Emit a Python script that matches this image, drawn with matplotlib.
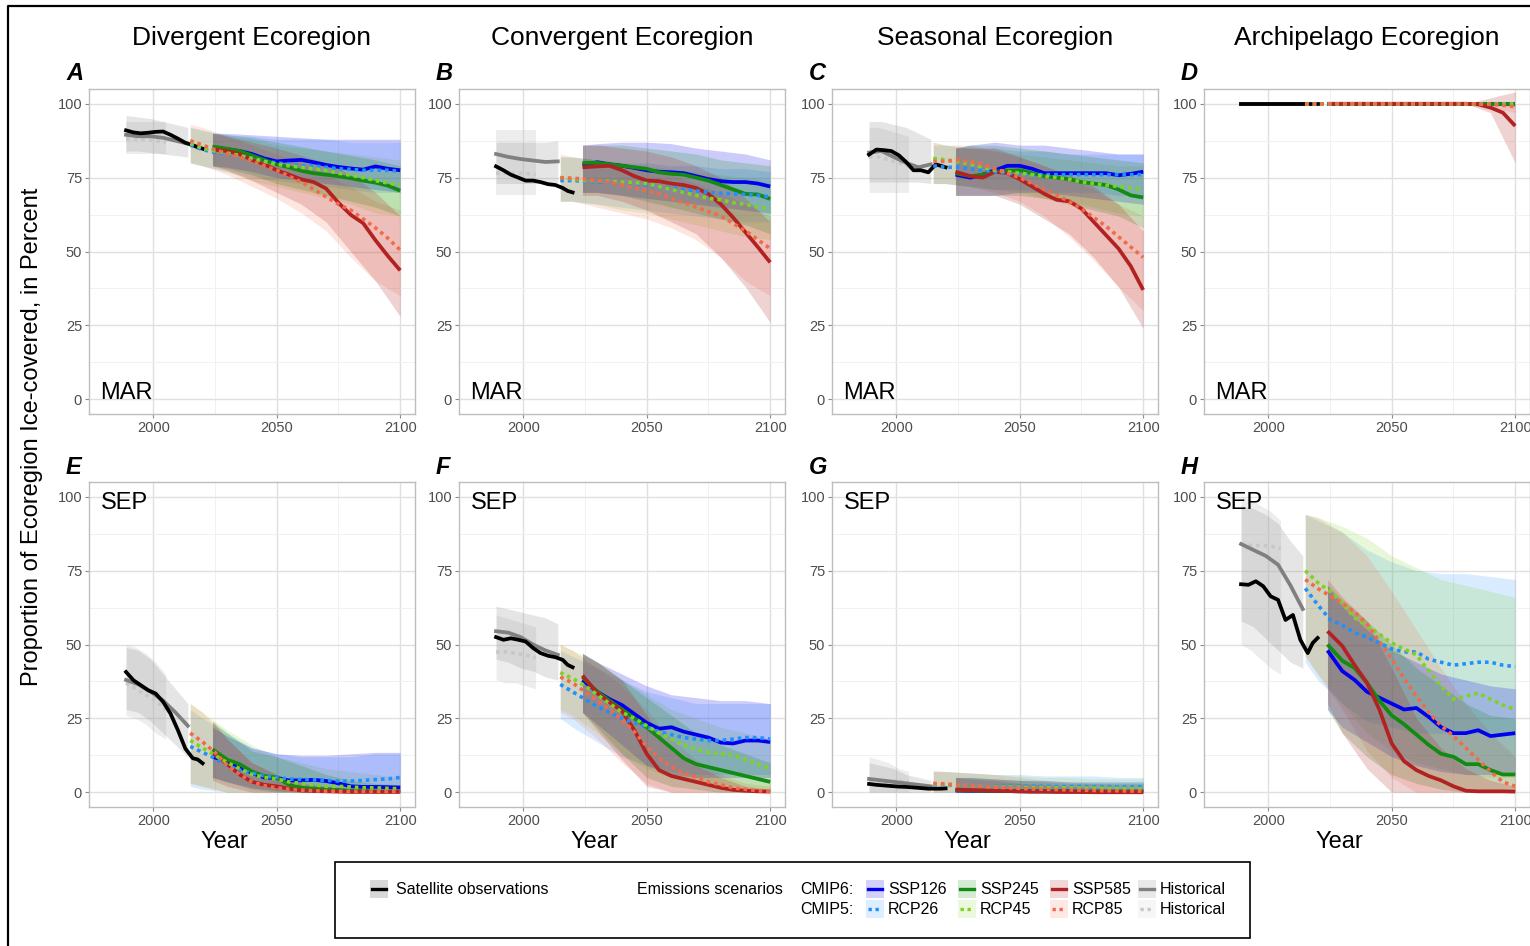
import matplotlib
matplotlib.use("Agg")
import matplotlib.pyplot as plt
from matplotlib.lines import Line2D
from matplotlib.patches import Rectangle
from matplotlib.ticker import FixedLocator

plt.rcParams['font.family'] = ['Liberation Sans', 'DejaVu Sans']

# ---------------- data ----------------
PANELS = ["A", "B", "C", "D", "E", "F", "G", "H"]
COLUMN_TITLES = ["Divergent Ecoregion", "Convergent Ecoregion", "Seasonal Ecoregion", "Archipelago Ecoregion"]
MONTHS = ["MAR", "SEP"]

OBS_YEARS = [1989, 1992, 1995, 1998, 2001, 2004, 2007, 2010, 2013, 2016, 2018, 2020]
HIST6_YEARS = [1989, 1994, 1999, 2004, 2009, 2014]
HIST5_YEARS = [1989, 1993, 1997, 2001, 2005]
CMIP5_YEARS = [2015, 2020, 2025, 2030, 2035, 2040, 2045, 2050, 2055, 2060, 2065, 2070, 2075, 2080, 2085, 2090, 2095, 2100]
CMIP6_YEARS = [2024, 2030, 2035, 2040, 2045, 2050, 2055, 2060, 2065, 2070, 2075, 2080, 2085, 2090, 2095, 2100]
BAND5_YEARS = [2015, 2020, 2030, 2040, 2050, 2060, 2070, 2080, 2090, 2100]
BAND6_YEARS = [2024, 2030, 2040, 2050, 2060, 2070, 2080, 2090, 2100]

OBS = {
    "A": [91, 90.3, 90, 90.2, 90.5, 90.6, 89.5, 88.2, 86.8, 86, 85.3, 84.8],
    "B": [78.8, 77.5, 76, 75, 74, 74, 73.5, 72.8, 72.5, 71.5, 70.5, 70],
    "C": [82.8, 84.5, 84.3, 84, 82.6, 80.3, 77.5, 77.5, 76.8, 79.5, 79, 78.5],
    "D": [100, 100, 100, 100, 100, 100, 100, 100, 100, 100, 100, 100],
    "E": [40.7, 37.9, 36.2, 34.5, 33.4, 30.6, 26.6, 21, 14.8, 11.5, 11.1, 9.8],
    "F": [52.5, 51.6, 52.1, 51.6, 51, 48.8, 47.1, 46.2, 45.7, 44.8, 43.1, 42.3],
    "G": [2.8, 2.5, 2.3, 2.1, 1.9, 1.8, 1.6, 1.4, 1.2, 1.2, 1.2, 1.3],
    "H": [70.4, 70.2, 71.4, 69.7, 66.3, 65.1, 58.3, 60, 51.6, 47.1, 50.5, 52.2],
}
HIST6 = {
    "A": [89.5, 89, 89, 88.5, 87.5, 86.5], "B": [83, 82, 81.3, 80.8, 80.3, 80.5],
    "C": [83.5, 84, 82, 80, 78.5, 79.5], "D": [100, 100, 100, 100, 100, 100],
    "E": [38, 36.5, 34, 31, 27, 22.5], "F": [54.5, 54, 52.5, 50, 48, 46.5],
    "G": [4.5, 4, 3.5, 3, 2.5, 2], "H": [84, 82, 80, 77, 70, 62],
}
HIST6_LO = {
    "A": [84, 84, 83.5, 83, 82.5, 82], "B": [73, 73, 73, 73, 73, 73],
    "C": [73.5, 73.5, 73.5, 73.5, 73.5, 73], "D": [99.5, 99.5, 99.5, 99.5, 99.5, 99.5],
    "E": [28, 27, 24, 20, 16, 12], "F": [45, 44, 42, 41, 39, 38],
    "G": [0, 0, 0, 0, 0, 0], "H": [58, 56, 52, 48, 44, 42],
}
HIST6_HI = {
    "A": [96, 95.5, 95, 94, 93, 92], "B": [87, 87, 87, 87, 87, 87.5],
    "C": [94, 94, 93, 92, 90, 88], "D": [100, 100, 100, 100, 100, 100],
    "E": [49, 48, 45, 40, 35, 30], "F": [63, 62, 61, 60, 59, 57],
    "G": [10, 9, 8, 6, 5, 4], "H": [97, 96, 94, 91, 85, 80],
}
HIST5 = {
    "A": [88, 88, 88, 87.5, 87], "B": [76.5, 76.5, 76.5, 76.5, 76],
    "C": [82, 82, 81, 80, 79], "D": [100, 100, 100, 100, 100],
    "E": [37, 35, 33, 31, 28], "F": [47.5, 47.5, 47, 46.5, 45.5],
    "G": [3.5, 3.5, 3.6, 3.7, 3.5], "H": [84, 83.5, 83.5, 83.3, 82.5],
}
HIST5_LO = {
    "A": [83, 83, 83, 83, 83], "B": [69, 69, 69, 69, 69], "C": [70, 70, 70, 70, 70],
    "D": [99.5, 99.5, 99.5, 99.5, 99.5], "E": [26, 25, 23, 20, 18], "F": [38, 37, 37, 36, 35],
    "G": [0, 0, 0, 0, 0], "H": [50, 48, 45, 42, 40],
}
HIST5_HI = {
    "A": [94, 94, 94, 94, 94], "B": [91, 91, 91, 91, 91], "C": [92, 92, 91, 90, 89],
    "D": [100, 100, 100, 100, 100], "E": [50, 49, 47, 44, 40], "F": [60, 59, 58, 57, 56],
    "G": [12, 11, 10, 8, 7], "H": [100, 99, 97, 95, 92],
}

RCP26 = {
    "A": [86, 84.5, 83.5, 83, 82.5, 81.5, 80.5, 80, 79.5, 79, 79, 78.5, 78, 77.8, 77.5, 77.5, 77.5, 77.2],
    "B": [74, 74, 73.8, 73.5, 73.5, 73.3, 73, 72.5, 72, 71.5, 71, 70.5, 70, 69.7, 69.5, 69.3, 69, 68.5],
    "C": [79, 78.5, 78.5, 78, 77.5, 77, 76.5, 76.2, 76, 76, 76, 76, 76, 76, 76, 76, 76, 76],
    "D": [100, 100, 100, 100, 100, 100, 100, 100, 100, 100, 100, 100, 100, 100, 100, 100, 100, 100],
    "E": [15.5, 13.5, 11.5, 9, 7.5, 6.5, 5.5, 5, 4.5, 4.3, 4.2, 4, 3.8, 3.8, 4, 4.3, 4.5, 5],
    "F": [36.5, 34, 31.5, 29, 27, 25, 23.5, 22, 20.5, 19.5, 18.5, 18, 17.5, 17.5, 18, 18.5, 18.5, 18],
    "G": [2.5, 2.4, 2.3, 2.2, 2.2, 2.1, 2.1, 2.0, 2.0, 2.0, 1.9, 1.9, 1.9, 1.8, 1.8, 1.8, 1.8, 1.8],
    "H": [69, 63.5, 58.5, 56.5, 54, 52.5, 50.5, 48.5, 47.5, 47.5, 45, 44, 43, 43.5, 44, 44, 43, 42.5],
}
RCP45 = {
    "A": [86.5, 85, 84, 83.3, 82.5, 81.5, 80.5, 79.5, 79, 78.5, 78, 77.5, 76.5, 75.8, 75, 74, 73.2, 72.5],
    "B": [75, 74.5, 74, 74, 73.8, 73.5, 73.3, 73, 72, 71, 70, 69, 68, 67.5, 66.5, 66, 65, 64.5],
    "C": [81.5, 81, 80.5, 79.5, 78.5, 77.5, 77, 76.5, 76, 75.5, 75, 74.5, 73.5, 73, 72.5, 72, 71.5, 71],
    "D": [100, 100, 100, 100, 100, 100, 100, 100, 100, 100, 100, 100, 100, 100, 100, 100, 100, 100],
    "E": [17.5, 15, 12.5, 10, 8, 6, 5, 4.5, 3.5, 3, 2.5, 2, 2, 1.8, 1.5, 1.5, 1.3, 1.2],
    "F": [40.5, 38.5, 36, 33, 30, 27, 25, 22.5, 20, 18, 16, 14.5, 13.5, 13, 12.5, 11, 9.5, 8],
    "G": [2.8, 2.6, 2.4, 2.2, 2.0, 1.9, 1.8, 1.7, 1.6, 1.6, 1.5, 1.5, 1.4, 1.4, 1.3, 1.3, 1.2, 1.2],
    "H": [75, 71, 68, 64, 59, 56.5, 53.5, 50.5, 48.5, 46.5, 41, 36, 31.5, 32.5, 33.5, 31.5, 29.5, 28],
}
RCP85 = {
    "A": [87.5, 86, 84.5, 83, 82, 80.5, 79, 77.5, 75.5, 73.5, 71, 68.5, 66, 64, 61, 58, 54.5, 50.5],
    "B": [75, 74.8, 74.5, 74, 73.5, 72.5, 71.5, 70.5, 69.5, 68, 66.5, 65, 63.5, 62, 59.5, 57, 54, 51],
    "C": [80.5, 80.5, 81, 80.5, 79.5, 78, 76.5, 75, 73, 71, 69, 67, 64.5, 61.5, 58.5, 55, 51.5, 48],
    "D": [100, 100, 100, 100, 100, 100, 100, 100, 100, 100, 100, 100, 100, 100, 100, 99.8, 99.5, 99],
    "E": [20, 17, 13.5, 9, 6, 3.5, 2.2, 1.5, 1, 0.7, 0.5, 0.4, 0.3, 0.3, 0.3, 0.3, 0.3, 0.3],
    "F": [39, 37, 34, 31, 28, 24.5, 20.5, 15.5, 11.5, 8.5, 6.5, 5, 3.5, 2.5, 1.5, 1, 0.5, 0.3],
    "G": [3.0, 2.8, 2.5, 2.2, 2.0, 1.7, 1.5, 1.3, 1.1, 1.0, 0.9, 0.8, 0.7, 0.6, 0.5, 0.5, 0.4, 0.4],
    "H": [72, 69, 66.5, 64, 61, 57, 51, 45, 38.5, 32.5, 27, 22.5, 19, 15, 11, 7, 3.5, 2],
}
SSP126 = {
    "A": [85, 84.5, 84, 83, 81.5, 80.5, 80.8, 81, 80.2, 79.3, 78.6, 78.1, 77.7, 78.8, 78, 77.5],
    "B": [79.3, 80.2, 79.5, 79, 78.3, 77.5, 77, 76.8, 76.5, 75.5, 74.5, 73.8, 73.5, 73.5, 73, 72],
    "C": [76, 75, 76, 77.5, 79, 79, 78, 76.5, 76.5, 76.5, 76.5, 76.5, 76.5, 75.8, 76.3, 77],
    "D": [100, 100, 100, 100, 100, 100, 100, 100, 100, 100, 100, 100, 100, 100, 100, 100],
    "E": [12, 10.5, 8.5, 6.5, 5, 4.8, 4, 4, 4.2, 3.8, 3, 2, 1.8, 1.8, 1.7, 1.6],
    "F": [38, 34, 31.5, 29.5, 26.5, 23.5, 21.5, 22, 20.5, 19.5, 18.5, 16.8, 16.5, 17.5, 17.5, 17],
    "G": [0.6, 0.5, 0.5, 0.4, 0.4, 0.3, 0.3, 0.3, 0.3, 0.3, 0.2, 0.2, 0.2, 0.2, 0.2, 0.2],
    "H": [48, 41, 38, 34, 32, 30, 28, 28.5, 25.5, 22, 20, 20, 21, 19, 19.5, 20],
}
SSP245 = {
    "A": [85.5, 84.8, 84, 82.5, 81, 79.5, 78.5, 77.3, 76.5, 76, 75.5, 74.8, 74, 73.3, 72.3, 70.6],
    "B": [80, 80, 79.5, 79, 78.5, 78, 76.8, 76.3, 76, 75, 74, 72.5, 71, 69.5, 69.3, 67.8],
    "C": [76.5, 75.5, 76, 77, 77.3, 77.5, 76.5, 75.5, 75, 74.5, 73.5, 73, 72.5, 71, 69, 68.3],
    "D": [100, 100, 100, 100, 100, 100, 100, 100, 100, 100, 100, 100, 100, 100, 100, 100],
    "E": [14.5, 11, 9.5, 7, 5.5, 5, 2.5, 1.5, 1.2, 1, 0.8, 0.5, 0.5, 0.3, 0.3, 0.3],
    "F": [39, 34, 31, 28, 25, 22, 18.5, 15, 11.5, 9.5, 8.5, 7.5, 6.5, 5.5, 4.5, 3.5],
    "G": [0.7, 0.6, 0.5, 0.5, 0.4, 0.4, 0.3, 0.3, 0.3, 0.2, 0.2, 0.2, 0.2, 0.2, 0.2, 0.2],
    "H": [50, 44.5, 42, 37, 31, 26, 23, 19.5, 16, 13, 12, 9.5, 9.5, 7.5, 6, 6],
}
SSP585 = {
    "A": [84.5, 84, 83, 81, 79.5, 77.5, 76, 74.4, 73.5, 71.3, 66.5, 62.4, 59.6, 53.8, 48.5, 43.6],
    "B": [78.5, 78.8, 79, 77.5, 75.5, 74, 73.8, 73, 72.5, 71.5, 69.5, 66, 61.5, 56.5, 51.5, 46.3],
    "C": [77, 75.5, 75, 77, 76.5, 74.5, 72, 69.5, 67.5, 67, 64.5, 60, 55.5, 51, 45, 37],
    "D": [100, 100, 100, 100, 100, 100, 100, 100, 100, 100, 100, 100, 99.8, 98.7, 97, 92.5],
    "E": [13.5, 9.5, 6, 3.5, 2.5, 2, 1.2, 0.6, 0.4, 0.3, 0.2, 0.1, 0.1, 0.1, 0.1, 0.1],
    "F": [39.5, 33.5, 30.5, 27.5, 21, 13, 7.5, 5.5, 4.5, 3.5, 2.5, 1.5, 0.8, 0.5, 0.3, 0.2],
    "G": [0.9, 0.7, 0.6, 0.5, 0.4, 0.3, 0.2, 0.2, 0.1, 0.1, 0.1, 0.0, 0.0, 0.0, 0.0, 0.0],
    "H": [54.5, 49.5, 43, 37, 28, 16.5, 10.5, 7.5, 5.5, 4, 2, 0.5, 0.3, 0.3, 0.3, 0.2],
}

SSP126_LO = {
    "A": [79, 78.5, 77, 75, 74, 73, 72, 71, 70], "B": [70, 70, 69, 68, 67, 66, 65, 64, 63],
    "C": [69, 69, 69, 70, 70, 69, 68, 67, 66], "D": [100, 100, 100, 100, 100, 100, 100, 100, 100],
    "E": [5, 3.5, 1.5, 0.5, 0, 0, 0, 0, 0], "F": [27, 23, 16, 9, 6, 5, 5, 5, 5],
    "G": [0, 0, 0, 0, 0, 0, 0, 0, 0], "H": [28, 22, 17, 12, 9, 7, 6, 6, 6],
}
SSP126_HI = {
    "A": [90, 90, 89.5, 89, 88.5, 88, 88, 88, 88], "B": [86, 86.5, 87, 87, 86.5, 85, 84, 83, 81],
    "C": [85, 86, 87, 86, 86, 85, 84, 83, 83], "D": [100, 100, 100, 100, 100, 100, 100, 100, 100],
    "E": [22, 19, 15, 13, 12.5, 12.5, 13, 13.5, 13.5], "F": [47, 44, 40, 36, 33, 32, 31, 31, 30],
    "G": [5, 5, 4.5, 4, 4, 3.5, 3.5, 3.5, 3.5], "H": [70, 63, 55, 48, 44, 40, 38, 36, 35],
}
SSP245_LO = {
    "A": [79, 78, 76, 73, 71, 69, 67, 65, 62], "B": [70, 70, 69, 67, 65, 63, 61, 59, 56],
    "C": [69, 69, 69, 69, 68, 66, 64, 62, 58], "D": [100, 100, 100, 100, 100, 100, 100, 100, 99],
    "E": [5, 3.5, 1, 0, 0, 0, 0, 0, 0], "F": [27, 22, 13, 5, 2, 1, 0, 0, 0],
    "G": [0, 0, 0, 0, 0, 0, 0, 0, 0], "H": [28, 20, 12, 6, 3, 1, 0, 0, 0],
}
SSP245_HI = {
    "A": [90, 89.5, 88.5, 87, 85.5, 84, 82.5, 81, 79], "B": [86, 86, 86, 85, 84, 83, 81, 80, 79],
    "C": [85, 86, 86, 85, 84, 83, 82, 81, 80], "D": [100, 100, 100, 100, 100, 100, 100, 100, 100],
    "E": [24, 20, 14, 12, 9, 6, 4, 3, 2.5], "F": [47, 44, 38, 32, 26, 20, 16, 13, 10],
    "G": [5, 5, 4.5, 4, 3.5, 3, 3, 3, 3], "H": [70, 65, 58, 50, 42, 36, 30, 26, 25],
}
SSP585_LO = {
    "A": [79, 77.5, 74, 70, 66, 60, 50, 40, 28], "B": [69, 69, 67, 64, 60, 56, 48, 38, 26],
    "C": [69, 69, 69, 66, 61, 56, 48, 38, 24], "D": [100, 100, 100, 100, 100, 100, 100, 97, 80],
    "E": [4, 2, 0, 0, 0, 0, 0, 0, 0], "F": [27, 21, 11, 2, 0, 0, 0, 0, 0],
    "G": [0, 0, 0, 0, 0, 0, 0, 0, 0], "H": [30, 20, 8, 0, 0, 0, 0, 0, 0],
}
SSP585_HI = {
    "A": [90, 89, 87, 85, 82.5, 80, 76, 70, 62], "B": [86, 86, 85, 84, 82, 79, 75, 68, 60],
    "C": [85, 85, 85, 82, 79, 76, 72, 66, 57], "D": [100, 100, 100, 100, 100, 100, 100, 102, 104],
    "E": [24, 18, 10, 6, 3, 2, 1, 0.5, 0.5], "F": [47, 44, 38, 26, 14, 9, 5, 2, 1],
    "G": [5, 4.5, 4, 3, 2.5, 2, 1.5, 1, 1], "H": [72, 66, 58, 42, 25, 15, 8, 4, 2],
}
RCP26_LO = {
    "A": [80, 79, 77, 75, 74, 73, 72, 71, 70, 70], "B": [67, 67, 66, 65, 64, 63, 62, 61, 60, 60],
    "C": [73, 73, 72, 71, 71, 70, 70, 70, 69, 69], "D": [100, 100, 100, 100, 100, 100, 100, 100, 100, 100],
    "E": [2, 1, 0, 0, 0, 0, 0, 0, 0, 0], "F": [25, 22, 17, 12, 9, 7, 6, 6, 6, 6],
    "G": [0, 0, 0, 0, 0, 0, 0, 0, 0, 0], "H": [44, 38, 30, 24, 22, 20, 20, 20, 20, 20],
}
RCP26_HI = {
    "A": [92, 91, 89.5, 89, 88, 88, 88, 87, 87, 87], "B": [82, 82, 81, 80, 80, 79, 79, 78, 78, 77],
    "C": [86, 86, 85, 85, 84, 84, 83, 83, 83, 83], "D": [100, 100, 100, 100, 100, 100, 100, 100, 100, 100],
    "E": [28, 25, 20, 15, 13, 12, 12, 12, 13, 13], "F": [48, 46, 42, 38, 34, 32, 30, 30, 30, 30],
    "G": [7, 7, 6.5, 6, 6, 5.5, 5.5, 5.5, 5, 5], "H": [94, 92, 88, 82, 78, 75, 74, 74, 73, 72],
}
RCP45_LO = {
    "A": [80, 79, 77, 74, 72, 70, 68, 66, 63, 62], "B": [67, 67, 66, 64, 63, 61, 59, 57, 55, 54],
    "C": [73, 73, 72, 71, 70, 68, 67, 65, 63, 62], "D": [100, 100, 100, 100, 100, 100, 100, 100, 100, 100],
    "E": [3, 2, 0, 0, 0, 0, 0, 0, 0, 0], "F": [28, 26, 20, 13, 8, 5, 3, 2, 1, 0],
    "G": [0, 0, 0, 0, 0, 0, 0, 0, 0, 0], "H": [46, 40, 30, 20, 14, 10, 8, 6, 5, 5],
}
RCP45_HI = {
    "A": [92, 91, 89, 88, 86, 85, 84, 83, 82, 81], "B": [82, 82, 81, 80, 79, 78, 77, 76, 75, 74],
    "C": [87, 86, 85, 84, 83, 82, 81, 80, 79, 79], "D": [100, 100, 100, 100, 100, 100, 100, 100, 100, 100],
    "E": [30, 27, 21, 16, 12, 10, 8, 7, 6, 5], "F": [50, 48, 44, 38, 33, 28, 25, 22, 20, 18],
    "G": [7, 7, 6.5, 6, 5.5, 5, 5, 4.5, 4.5, 4.5], "H": [94, 93, 90, 86, 80, 76, 72, 70, 68, 66],
}
RCP85_LO = {
    "A": [80, 79, 76, 72, 68, 63, 57, 48, 40, 35], "B": [67, 67, 65, 63, 61, 58, 54, 48, 40, 35],
    "C": [73, 73, 72, 70, 67, 62, 55, 47, 38, 30], "D": [100, 100, 100, 100, 100, 100, 100, 100, 99, 97],
    "E": [3, 2, 0, 0, 0, 0, 0, 0, 0, 0], "F": [27, 25, 18, 10, 3, 0, 0, 0, 0, 0],
    "G": [0, 0, 0, 0, 0, 0, 0, 0, 0, 0], "H": [46, 40, 28, 14, 5, 0, 0, 0, 0, 0],
}
RCP85_HI = {
    "A": [93, 92, 89, 86, 83, 80, 76, 72, 67, 64], "B": [83, 82, 81, 80, 78, 76, 73, 70, 66, 62],
    "C": [87, 86, 86, 84, 82, 79, 75, 71, 66, 62], "D": [100, 100, 100, 100, 100, 100, 100, 100, 100, 100],
    "E": [30, 27, 18, 10, 6, 3, 2, 1, 1, 1], "F": [50, 48, 42, 36, 28, 18, 11, 6, 3, 2],
    "G": [7.5, 7, 6.5, 6, 5, 4, 3.5, 3, 2.5, 2], "H": [94, 93, 88, 80, 68, 55, 42, 30, 20, 12],
}

# ---------------- styles ----------------
C_SSP126, C_SSP245, C_SSP585 = "#0000EE", "#118B11", "#B22222"
C_RCP26, C_RCP45, C_RCP85 = "#1E90FF", "#7ED321", "#F4694A"
C_H6, C_H5 = "#808080", "#C8C8C8"
DOT = (0, (1.0, 1.1))
LW_SOLID = 2.7
LW_DOT = 2.6
BAND_ALPHA = 0.2

W, H = 1530, 946
fig = plt.figure(figsize=(W / 100, H / 100), dpi=100)
fig.patch.set_facecolor("white")

COL_LEFT = [89, 459, 832, 1204]
ROW_TOP = [89, 482]
PW, PH = 326, 325


def fx(x):
    return x / W


def fy(y):
    return 1 - y / H


for i, p in enumerate(PANELS):
    r, c = divmod(i, 4)
    left, top = COL_LEFT[c], ROW_TOP[r]
    ax = fig.add_axes([fx(left), fy(top + PH), PW / W, PH / H])
    ax.set_xlim(1974, 2106)
    ax.set_ylim(-5, 105)
    ax.xaxis.set_major_locator(FixedLocator([2000, 2050, 2100]))
    ax.xaxis.set_minor_locator(FixedLocator([2025, 2075]))
    ax.yaxis.set_major_locator(FixedLocator([0, 25, 50, 75, 100]))
    ax.yaxis.set_minor_locator(FixedLocator([12.5, 37.5, 62.5, 87.5]))
    ax.grid(which="major", color="#E0E0E0", lw=1.0, zorder=0)
    ax.grid(which="minor", color="#F1F1F1", lw=0.7, zorder=0)
    ax.set_axisbelow(True)
    for s in ax.spines.values():
        s.set_color("#BDBDBD")
        s.set_linewidth(1.0)
    ax.tick_params(which="major", length=3, color="#8C8C8C", labelsize=10.5,
                   labelcolor="#4D4D4D", pad=2)
    ax.tick_params(which="minor", length=0)

    # bands
    ax.fill_between(HIST5_YEARS, HIST5_LO[p], HIST5_HI[p], color="#BBBBBB", alpha=0.25, lw=0)
    ax.fill_between(HIST6_YEARS, HIST6_LO[p], HIST6_HI[p], color="#999999", alpha=0.25, lw=0)
    for lo, hi, col in [(RCP26_LO, RCP26_HI, C_RCP26), (RCP45_LO, RCP45_HI, C_RCP45),
                        (RCP85_LO, RCP85_HI, C_RCP85)]:
        ax.fill_between(BAND5_YEARS, lo[p], hi[p], color=col, alpha=0.17, lw=0)
    for lo, hi, col in [(SSP126_LO, SSP126_HI, C_SSP126), (SSP245_LO, SSP245_HI, C_SSP245),
                        (SSP585_LO, SSP585_HI, C_SSP585)]:
        ax.fill_between(BAND6_YEARS, lo[p], hi[p], color=col, alpha=BAND_ALPHA, lw=0)

    # lines
    ax.plot(HIST5_YEARS, HIST5[p], color=C_H5, lw=LW_DOT, ls=DOT, zorder=3)
    ax.plot(HIST6_YEARS, HIST6[p], color=C_H6, lw=LW_SOLID, zorder=3)
    ax.plot(OBS_YEARS, OBS[p], color="black", lw=LW_SOLID, zorder=4)
    for d, col in [(SSP126, C_SSP126), (SSP245, C_SSP245), (SSP585, C_SSP585)]:
        ax.plot(CMIP6_YEARS, d[p], color=col, lw=LW_SOLID, zorder=5, solid_capstyle="butt")
    for d, col in [(RCP26, C_RCP26), (RCP45, C_RCP45), (RCP85, C_RCP85)]:
        ax.plot(CMIP5_YEARS, d[p], color=col, lw=LW_DOT, ls=DOT, zorder=6)

    # panel letter
    fig.text(fx(left - 23), fy(top - 15), p, fontsize=17, fontweight="bold",
             fontstyle="italic", ha="left", va="center")
    # month tag
    if r == 0:
        ax.text(0.035, 0.065, MONTHS[0], transform=ax.transAxes, fontsize=17,
                ha="left", va="center")
    else:
        ax.text(0.035, 0.935, MONTHS[1], transform=ax.transAxes, fontsize=17,
                ha="left", va="center")
    if r == 1:
        fig.text(fx(left + 135), fy(842), "Year", fontsize=17, ha="center", va="center")

for c, t in enumerate(COLUMN_TITLES):
    fig.text(fx(COL_LEFT[c] + PW / 2), fy(38), t, fontsize=19, ha="center", va="center")

fig.text(fx(32), fy(437), "Proportion of Ecoregion Ice-covered, in Percent",
         rotation=90, fontsize=17, ha="center", va="center")

# outer frame (partially cropped)
fig.add_artist(Line2D([fx(8), fx(8), fx(1530)], [fy(946), fy(6), fy(6)],
                      transform=fig.transFigure, color="black", lw=1.6))

# ---------------- legend ----------------
fig.add_artist(Rectangle((fx(335), fy(938)), (1250 - 335) / W, (938 - 862) / H,
                         transform=fig.transFigure, fill=False, ec="black", lw=1.2))


def key(x, y, col, fillcol, ls="-", falpha=0.25):
    fig.add_artist(Rectangle((fx(x), fy(y + 9)), 18 / W, 18 / H, transform=fig.transFigure,
                             facecolor=fillcol, alpha=falpha, lw=0))
    fig.add_artist(Line2D([fx(x + 2), fx(x + 16)], [fy(y), fy(y)], transform=fig.transFigure,
                          color=col, lw=2.4, ls=ls))


LEG_FS = 11.5
key(370, 889, "black", "#BFBFBF", falpha=0.6)
fig.text(fx(396), fy(889), "Satellite observations", fontsize=LEG_FS, va="center")
fig.text(fx(637), fy(889), "Emissions scenarios", fontsize=LEG_FS, va="center")
fig.text(fx(800), fy(889), "CMIP6:", fontsize=LEG_FS, va="center")
fig.text(fx(800), fy(909), "CMIP5:", fontsize=LEG_FS, va="center")
row6 = [("SSP126", C_SSP126), ("SSP245", C_SSP245), ("SSP585", C_SSP585), ("Historical", C_H6)]
row5 = [("RCP26", C_RCP26), ("RCP45", C_RCP45), ("RCP85", C_RCP85), ("Historical", C_H5)]
kx = [866, 958, 1050, 1138]
for (lab, col), x in zip(row6, kx):
    key(x, 889, col, col, falpha=0.18)
    fig.text(fx(x + 22), fy(889), lab, fontsize=LEG_FS, va="center")
for (lab, col), x in zip(row5, kx):
    key(x, 909, col, col, ls=DOT, falpha=0.15)
    fig.text(fx(x + 22), fy(909), lab, fontsize=LEG_FS, va="center")

fig.savefig("out.png", dpi=100, facecolor="white")
